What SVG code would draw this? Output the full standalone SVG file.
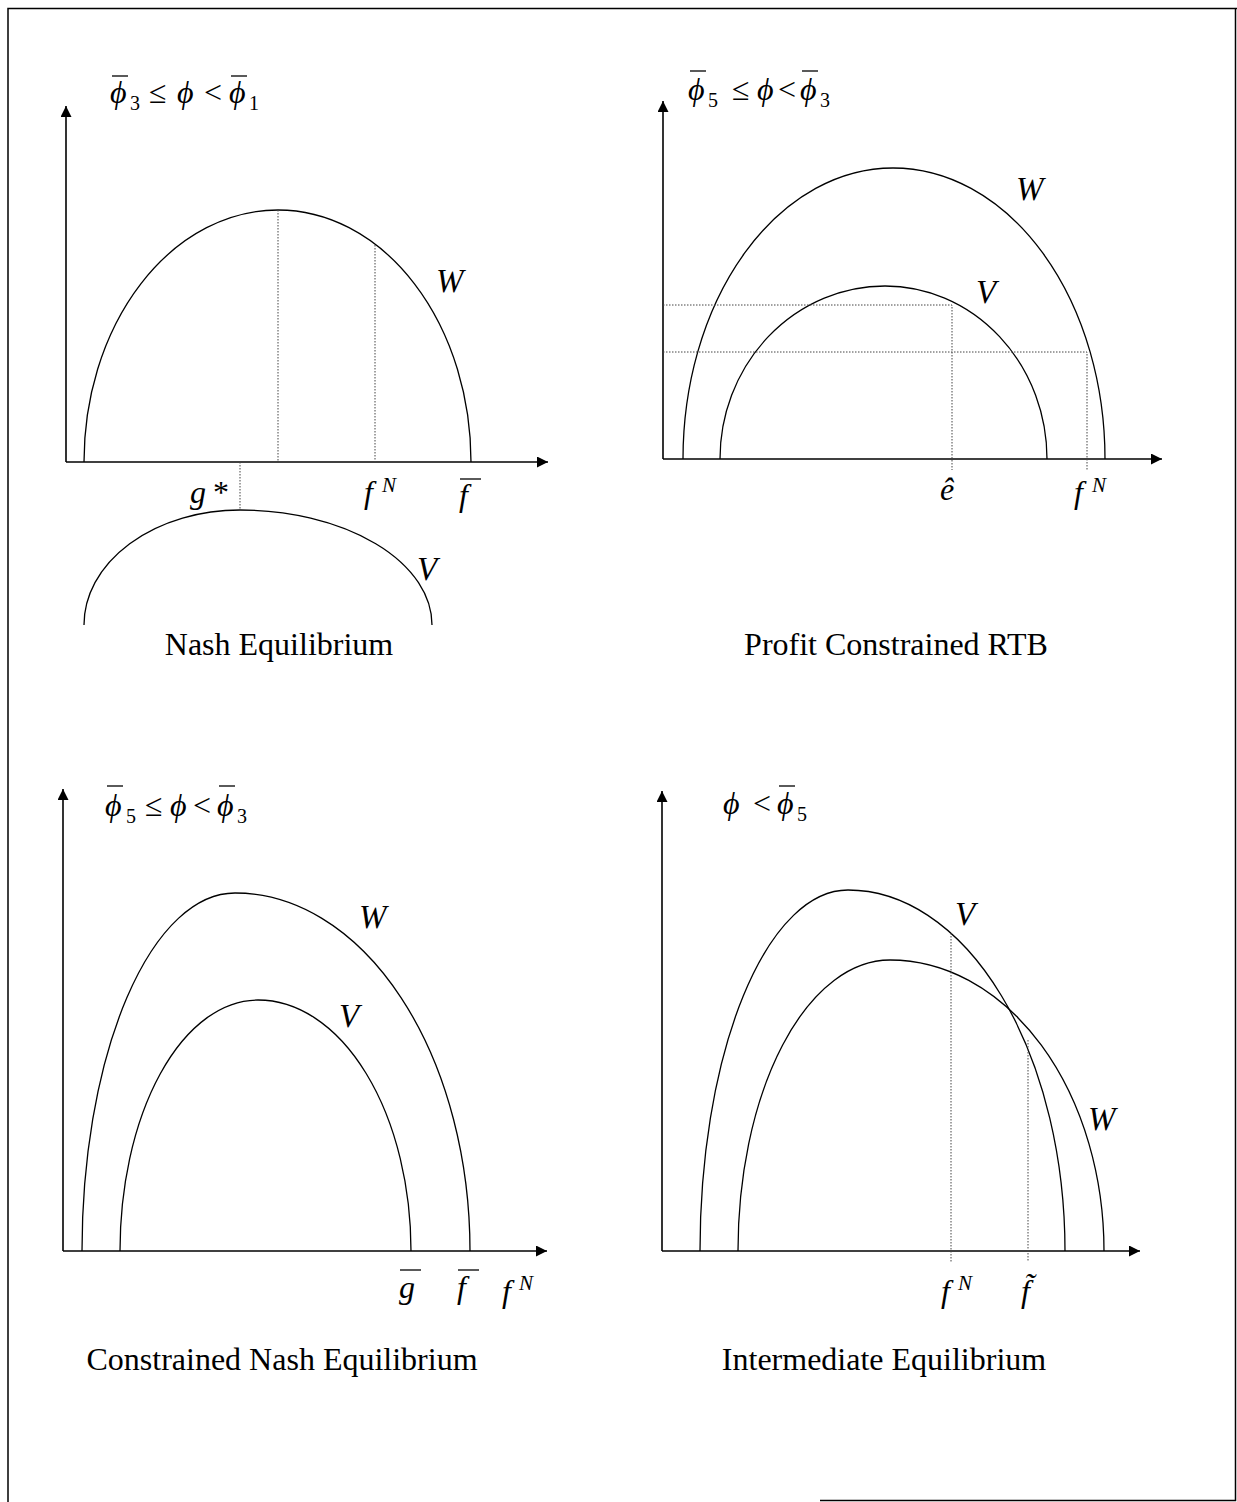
<svg xmlns="http://www.w3.org/2000/svg" width="1237" height="1502" viewBox="0 0 1237 1502">
<style>
.ax{stroke:#000;stroke-width:1.6;fill:none}
.cv{stroke:#000;stroke-width:1.3;fill:none}
.dt{stroke:#444;stroke-width:1;stroke-dasharray:1.5 1.5;fill:none}
.bar{stroke:#000;stroke-width:1.3}
.m{font-family:"Liberation Serif","DejaVu Serif",serif;font-style:italic;font-size:32px;fill:#000}
.r{font-family:"Liberation Serif","DejaVu Serif",serif;font-size:32px;fill:#000}
.sub{font-family:"Liberation Serif","DejaVu Serif",serif;font-size:20px;fill:#000}
.sup{font-family:"Liberation Serif","DejaVu Serif",serif;font-style:italic;font-size:21px;fill:#000}
.big{font-family:"Liberation Serif","DejaVu Serif",serif;font-style:italic;font-size:33px;fill:#000}
.cap{font-family:"Liberation Serif","DejaVu Serif",serif;font-size:32px;fill:#000;text-anchor:middle}
</style>
<defs>
<marker id="ar" viewBox="0 0 10 10" refX="10" refY="5" markerWidth="11" markerHeight="11" markerUnits="userSpaceOnUse" orient="auto"><path d="M0,0 L10,5 L0,10 z" fill="#000"/></marker>
</defs>
<g id="border" fill="none" stroke="#000" stroke-width="1.5">
<path d="M8,1502 V8.5 H1237"/>
<path d="M1235.5,8 V1500.5 H820"/>
</g>

<g id="panel-nash">
<path class="ax" d="M66,462 V106" marker-end="url(#ar)"/>
<path class="ax" d="M66,462 H548" marker-end="url(#ar)"/>
<path class="cv" d="M84,462 A194,252 0 0 1 278,210 A193,252 0 0 1 471,462"/>
<path class="cv" d="M84,625 A156,115 0 0 1 240,510 A192,115 0 0 1 432,625"/>
<path class="dt" d="M278,210 V462 M375,245 V462 M240,462 V510"/>
<text class="m" x="110" y="103">ϕ</text><line class="bar" x1="112" y1="76" x2="128" y2="76"/>
<text class="sub" x="130" y="110">3</text>
<text class="r" x="149" y="103">≤</text>
<text class="m" x="177" y="103">ϕ</text>
<text class="r" x="204" y="103">&lt;</text>
<text class="m" x="229" y="103">ϕ</text><line class="bar" x1="231" y1="76" x2="247" y2="76"/>
<text class="sub" x="249" y="110">1</text>
<text class="big" x="436" y="292">W</text>
<text class="big" x="417" y="580">V</text>
<text class="m" x="190" y="503">g</text><text class="r" x="213" y="503">*</text>
<text class="m" x="364" y="503">f</text><text class="sup" x="382" y="492">N</text>
<text class="m" x="459" y="506">f</text><line class="bar" x1="460" y1="479" x2="481" y2="479"/>
<text class="cap" x="279" y="655">Nash Equilibrium</text>
</g>

<g id="panel-rtb">
<path class="ax" d="M663,459 V101" marker-end="url(#ar)"/>
<path class="ax" d="M663,459 H1162" marker-end="url(#ar)"/>
<path class="cv" d="M683,459 A210,291 0 0 1 893,168 A212,291 0 0 1 1105,459"/>
<path class="cv" d="M720,459 A165,173 0 0 1 885,286 A162,173 0 0 1 1047,459"/>
<path class="dt" d="M663,305 H952 V470 M663,352 H1087 V470"/>
<text class="m" x="688" y="100">ϕ</text><line class="bar" x1="690" y1="71" x2="706" y2="71"/>
<text class="sub" x="708" y="107">5</text>
<text class="r" x="732" y="100">≤</text>
<text class="m" x="757" y="100">ϕ</text>
<text class="r" x="778" y="100">&lt;</text>
<text class="m" x="800" y="100">ϕ</text><line class="bar" x1="802" y1="71" x2="818" y2="71"/>
<text class="sub" x="820" y="107">3</text>
<text class="big" x="1016" y="200">W</text>
<text class="big" x="976" y="303">V</text>
<text class="m" x="940" y="500">ê</text>
<text class="m" x="1074" y="503">f</text><text class="sup" x="1092" y="492">N</text>
<text class="cap" x="896" y="655">Profit Constrained RTB</text>
</g>

<g id="panel-cnash">
<path class="ax" d="M63,1251 V789" marker-end="url(#ar)"/>
<path class="ax" d="M63,1251 H547" marker-end="url(#ar)"/>
<path class="cv" d="M82,1251 A153,358 0 0 1 235,893 A235,358 0 0 1 470,1251"/>
<path class="cv" d="M120,1251 A138,251 0 0 1 258,1000 A153,251 0 0 1 411,1251"/>
<text class="m" x="105" y="816">ϕ</text><line class="bar" x1="107" y1="786" x2="123" y2="786"/>
<text class="sub" x="126" y="823">5</text>
<text class="r" x="145" y="816">≤</text>
<text class="m" x="170" y="816">ϕ</text>
<text class="r" x="193" y="816">&lt;</text>
<text class="m" x="217" y="816">ϕ</text><line class="bar" x1="219" y1="786" x2="235" y2="786"/>
<text class="sub" x="237" y="823">3</text>
<text class="big" x="359" y="928">W</text>
<text class="big" x="339" y="1027">V</text>
<text class="m" x="399" y="1298">g</text><line class="bar" x1="400" y1="1270" x2="421" y2="1270"/>
<text class="m" x="457" y="1298">f</text><line class="bar" x1="458" y1="1270" x2="479" y2="1270"/>
<text class="m" x="502" y="1302">f</text><text class="sup" x="519" y="1290">N</text>
<text class="cap" x="282" y="1370">Constrained Nash Equilibrium</text>
</g>

<g id="panel-inter">
<path class="ax" d="M662,1251 V791" marker-end="url(#ar)"/>
<path class="ax" d="M662,1251 H1140" marker-end="url(#ar)"/>
<path class="cv" d="M700,1251 A148,361 0 0 1 848,890 A217,361 0 0 1 1065,1251"/>
<path class="cv" d="M738,1251 A152,291 0 0 1 890,960 A214,291 0 0 1 1104,1251"/>
<path class="dt" d="M951,933 V1262 M1028,1040 V1262"/>
<text class="m" x="723" y="814">ϕ</text>
<text class="r" x="753" y="814">&lt;</text>
<text class="m" x="777" y="814">ϕ</text><line class="bar" x1="779" y1="786" x2="795" y2="786"/>
<text class="sub" x="797" y="821">5</text>
<text class="big" x="955" y="925">V</text>
<text class="big" x="1088" y="1130">W</text>
<text class="m" x="941" y="1302">f</text><text class="sup" x="958" y="1290">N</text>
<text class="m" x="1021" y="1302">f&#771;</text>
<text class="cap" x="884" y="1370">Intermediate Equilibrium</text>
</g>
</svg>
